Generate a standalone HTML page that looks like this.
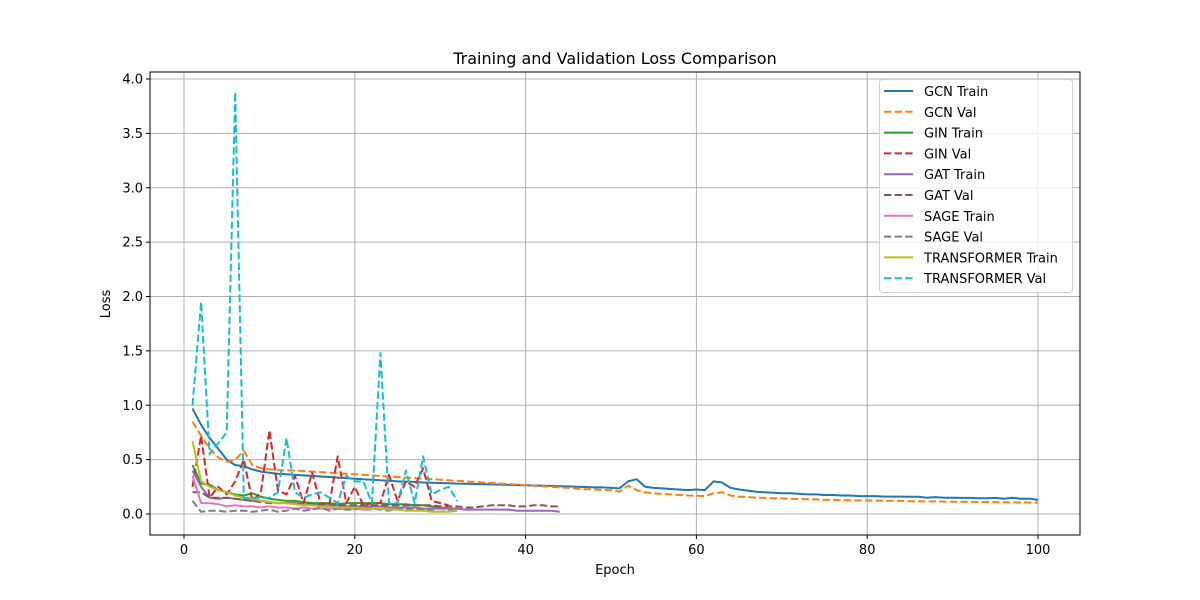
<!DOCTYPE html>
<html><head><meta charset="utf-8"><style>
html,body{margin:0;background:#fff;width:1200px;height:600px;overflow:hidden}
svg text{font-family:"DejaVu Sans","Liberation Sans",sans-serif;fill:#000}
#chart{position:absolute;left:0;top:0;display:block}
</style></head><body>
<svg id="chart" width="1200" height="600" xmlns="http://www.w3.org/2000/svg">
<rect width="1200" height="600" fill="#fff"/>
<g id="grid"></g><g id="series"></g><g id="axes"></g><g id="legend"></g>
<text x="615" y="64" text-anchor="middle" font-size="16">Training and Validation Loss Comparison</text>
<text x="615" y="574" text-anchor="middle" font-size="13">Epoch</text>
<text x="0" y="0" text-anchor="middle" font-size="13" transform="translate(110,304) rotate(-90)">Loss</text>
</svg>
<script>
const xTicks=[0,20,40,60,80,100];
const yTicks=[0,0.5,1,1.5,2,2.5,3,3.5,4];
const seriesNames=["GCN Train","GCN Val","GIN Train","GIN Val","GAT Train","GAT Val","SAGE Train","SAGE Val","TRANSFORMER Train","TRANSFORMER Val"];
const gcnTrain=[0.97,0.82,0.7,0.6,0.5,0.45,0.44,0.41,0.39,0.38,0.37,0.365,0.36,0.355,0.35,0.345,0.34,0.335,0.33,0.325,0.32,0.315,0.31,0.305,0.3,0.298,0.295,0.29,0.288,0.285,0.283,0.28,0.278,0.276,0.274,0.272,0.27,0.268,0.266,0.264,0.262,0.26,0.258,0.256,0.254,0.25,0.248,0.245,0.245,0.24,0.235,0.3,0.32,0.25,0.24,0.235,0.23,0.225,0.22,0.225,0.22,0.3,0.29,0.24,0.225,0.215,0.205,0.2,0.195,0.19,0.19,0.185,0.18,0.18,0.175,0.175,0.17,0.17,0.165,0.165,0.165,0.16,0.16,0.16,0.158,0.158,0.15,0.155,0.15,0.15,0.148,0.148,0.145,0.145,0.148,0.14,0.15,0.14,0.142,0.13];
const gcnVal=[0.85,0.72,0.6,0.52,0.48,0.5,0.58,0.45,0.42,0.41,0.405,0.4,0.4,0.395,0.39,0.385,0.38,0.375,0.37,0.365,0.36,0.355,0.35,0.345,0.34,0.335,0.33,0.325,0.32,0.315,0.31,0.305,0.3,0.295,0.29,0.285,0.28,0.275,0.27,0.265,0.26,0.255,0.25,0.245,0.24,0.232,0.228,0.225,0.222,0.22,0.205,0.26,0.22,0.2,0.19,0.185,0.18,0.175,0.17,0.168,0.165,0.19,0.2,0.17,0.16,0.155,0.15,0.148,0.145,0.143,0.14,0.138,0.135,0.133,0.13,0.13,0.128,0.126,0.125,0.124,0.123,0.122,0.12,0.12,0.118,0.117,0.116,0.115,0.114,0.113,0.112,0.111,0.11,0.11,0.109,0.108,0.107,0.106,0.105,0.105];
const ginTrain=[0.45,0.28,0.27,0.22,0.2,0.18,0.17,0.19,0.16,0.14,0.13,0.12,0.12,0.11,0.1,0.1,0.1,0.09,0.1,0.1,0.1,0.1,0.1,0.09,0.09,0.09,0.08,0.08,0.07,0.06,0.05,0.05];
const ginVal=[0.25,0.72,0.15,0.25,0.18,0.3,0.5,0.12,0.2,0.77,0.22,0.18,0.35,0.1,0.38,0.1,0.08,0.53,0.1,0.25,0.08,0.1,0.1,0.36,0.12,0.3,0.25,0.42,0.12,0.1,0.08];
const gatTrain=[0.4,0.25,0.15,0.14,0.15,0.14,0.13,0.12,0.12,0.11,0.1,0.1,0.1,0.09,0.09,0.08,0.08,0.08,0.07,0.07,0.07,0.07,0.07,0.06,0.06,0.06,0.06,0.05,0.05,0.05,0.05,0.05,0.04,0.04,0.04,0.04,0.04,0.04,0.03,0.03,0.03,0.03,0.03,0.02];
const gatVal=[0.2,0.2,0.15,0.15,0.15,0.14,0.13,0.12,0.11,0.1,0.1,0.1,0.1,0.09,0.09,0.09,0.08,0.08,0.08,0.08,0.08,0.08,0.08,0.08,0.08,0.08,0.08,0.08,0.08,0.07,0.07,0.07,0.06,0.06,0.07,0.08,0.08,0.08,0.07,0.07,0.08,0.08,0.07,0.07];
const sageTrain=[0.35,0.1,0.1,0.09,0.07,0.08,0.07,0.07,0.06,0.07,0.06,0.06,0.05,0.06,0.05,0.05,0.05,0.05,0.04,0.05,0.04,0.04];
const sageVal=[0.12,0.02,0.03,0.03,0.02,0.03,0.03,0.02,0.03,0.04,0.02,0.03,0.05,0.03,0.04,0.06,0.03,0.05,0.04,0.04,0.07,0.05,0.04,0.03,0.05,0.04,0.05,0.04,0.03,0.02,0.03,0.03];
const trTrain=[0.67,0.3,0.25,0.22,0.2,0.17,0.15,0.14,0.12,0.11,0.1,0.1,0.09,0.08,0.08,0.07,0.07,0.06,0.06,0.06,0.05,0.05,0.05,0.04,0.04,0.03,0.03,0.03,0.02,0.02,0.02,0.03];
const trVal=[1.0,1.95,0.55,0.65,0.75,3.88,0.15,0.15,0.15,0.15,0.2,0.7,0.2,0.15,0.18,0.2,0.15,0.1,0.35,0.3,0.3,0.1,1.48,0.1,0.1,0.4,0.1,0.53,0.18,0.22,0.25,0.12];
const seriesData=[gcnTrain,gcnVal,ginTrain,ginVal,gatTrain,gatVal,sageTrain,sageVal,trTrain,trVal];
const colors=["#1f77b4","#ff7f0e","#2ca02c","#d62728","#9467bd","#8c564b","#e377c2","#7f7f7f","#bcbd22","#17becf"];
const L=150,R=1080,T=72,B=535;
const X=v=>184+(v-0)*(1038-184)/100;
const Y=v=>514-v*(514-79)/4;
const NS="http://www.w3.org/2000/svg";
function mk(tag,attrs,parent,txt){const e=document.createElementNS(NS,tag);for(const k in attrs)e.setAttribute(k,attrs[k]);if(txt!==undefined)e.textContent=txt;parent.appendChild(e);return e;}
const grid=document.getElementById('grid'),ser=document.getElementById('series'),ax=document.getElementById('axes'),leg=document.getElementById('legend');
xTicks.forEach(t=>{const g=mk('line',{x1:X(t),x2:X(t),y1:T,y2:B,stroke:'#b0b0b0','stroke-width':1},grid);


mk('line',{x1:X(t),x2:X(t),y1:B,y2:B+4,stroke:'#000','stroke-width':1},ax);
const l=mk('text',{x:X(t),y:B+19,'text-anchor':'middle','font-size':'13'},ax,String(t));

});
yTicks.forEach(t=>{const g=mk('line',{x1:L,x2:R,y1:Y(t),y2:Y(t),stroke:'#b0b0b0','stroke-width':1},grid);


mk('line',{x1:L-4,x2:L,y1:Y(t),y2:Y(t),stroke:'#000','stroke-width':1},ax);
const l=mk('text',{x:L-7,y:Y(t)+4.5,'text-anchor':'end','font-size':'13'},ax,t.toFixed(1));

});
seriesData.forEach((d,i)=>{const pts=d.map((v,j)=>X(j+1).toFixed(1)+','+Y(v).toFixed(1)).join(' ');
const a={points:pts,fill:'none',stroke:colors[i],'stroke-width':2,'stroke-linejoin':'round'};if(i%2)a['stroke-dasharray']='7.4,3.2';
const p=mk('polyline',a,ser);

});
const fr=mk('rect',{x:L,y:T,width:R-L,height:B-T,fill:'none',stroke:'#000','stroke-width':1},ax);


const lb=mk('rect',{x:879.5,y:79.5,width:193,height:213,rx:3,fill:'#fff','fill-opacity':0.8,stroke:'#d0d0d0','stroke-width':1},leg);


seriesNames.forEach((n,i)=>{const y=91+i*20.8;const a={x1:884,x2:913,y1:y,y2:y,stroke:colors[i],'stroke-width':2};if(i%2)a['stroke-dasharray']='7.4,3.2';
const ln=mk('line',a,leg);


const t=mk('text',{x:924,y:y+5,'font-size':'13'},leg,n);

});
</script>
</body></html>
